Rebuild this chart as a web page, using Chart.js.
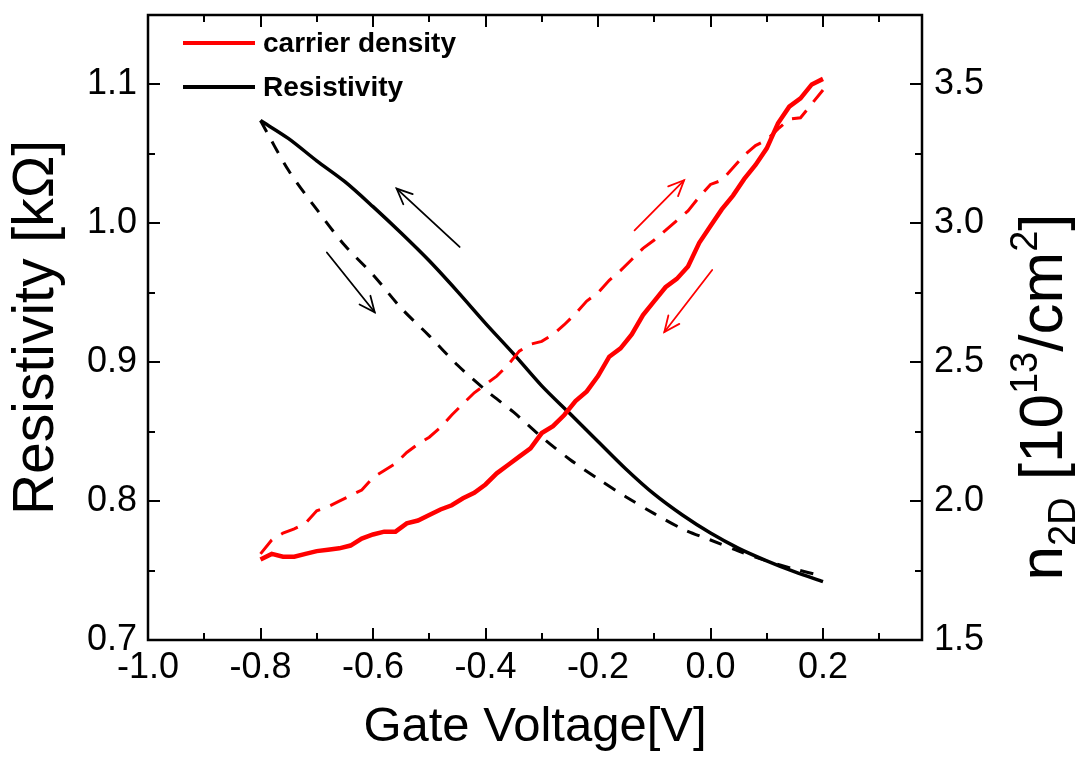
<!DOCTYPE html>
<html><head><meta charset="utf-8">
<script src="https://cdn.jsdelivr.net/npm/chart.js@4.4.0/dist/chart.umd.min.js"></script>
<style>html,body{margin:0;padding:0;background:#fff}#wrap{width:1078px;height:759px;position:relative}</style>
</head><body><div id="wrap"><canvas id="c" width="1078" height="759"></canvas></div>
<script>
// ---- data ----
const gateVDensity = [-0.80,-0.78,-0.76,-0.74,-0.72,-0.70,-0.68,-0.66,-0.64,-0.62,-0.60,-0.58,-0.56,-0.54,-0.52,-0.50,-0.48,-0.46,-0.44,-0.42,-0.40,-0.38,-0.36,-0.34,-0.32,-0.30,-0.28,-0.26,-0.24,-0.22,-0.20,-0.18,-0.16,-0.14,-0.12,-0.10,-0.08,-0.06,-0.04,-0.02,0.00,0.02,0.04,0.06,0.08,0.10,0.12,0.14,0.16,0.18,0.20];
const densityBackward = [1.79,1.81,1.80,1.80,1.81,1.82,1.825,1.83,1.84,1.865,1.88,1.89,1.89,1.92,1.93,1.95,1.97,1.985,2.01,2.03,2.06,2.10,2.13,2.16,2.19,2.245,2.27,2.31,2.36,2.395,2.45,2.52,2.55,2.60,2.67,2.72,2.77,2.80,2.845,2.93,2.99,3.05,3.10,3.16,3.21,3.27,3.36,3.42,3.45,3.50,3.52];
const densityForward = [1.81,1.86,1.885,1.90,1.92,1.965,1.98,2.00,2.02,2.04,2.085,2.11,2.135,2.175,2.205,2.23,2.265,2.31,2.35,2.39,2.42,2.45,2.49,2.54,2.565,2.575,2.60,2.635,2.675,2.72,2.75,2.795,2.83,2.87,2.91,2.94,2.975,3.01,3.045,3.095,3.14,3.155,3.20,3.245,3.28,3.30,3.34,3.375,3.38,3.43,3.48];
const gateVRes = [-0.80,-0.75,-0.70,-0.65,-0.60,-0.55,-0.50,-0.45,-0.40,-0.35,-0.30,-0.25,-0.20,-0.15,-0.10,-0.05,0.00,0.05,0.10,0.15,0.20];
const resBackward = [1.074,1.061,1.045,1.030,1.012,0.993,0.973,0.951,0.928,0.906,0.883,0.863,0.843,0.823,0.805,0.790,0.777,0.766,0.757,0.749,0.742];
const resForward  = [1.074,1.038,1.010,0.984,0.963,0.939,0.919,0.898,0.880,0.864,0.846,0.830,0.816,0.803,0.791,0.780,0.772,0.764,0.757,0.751,0.746];
const xTickValues = [-1.0,-0.8,-0.6,-0.4,-0.2,0.0,0.2];
const yLeftTickValues = [0.7,0.8,0.9,1.0,1.1];
const yRightTickValues = [1.5,2.0,2.5,3.0,3.5];
const legendLabels = ['carrier density','Resistivity'];
// sweep-direction arrows, in data units [x, value] on the named axis
const sweepArrows = [
  {from:[-0.446,0.983], to:[-0.558,1.025], axis:'y',  color:'#000000'},
  {from:[-0.682,0.979], to:[-0.597,0.936], axis:'y',  color:'#000000'},
  {from:[-0.135,2.975], to:[-0.047,3.155], axis:'y2', color:'#ff0000'},
  {from:[0.003,2.832],  to:[-0.082,2.609], axis:'y2', color:'#ff0000'}
];

const FONT = "'Liberation Sans', Arial, sans-serif";
Chart.defaults.font.family = FONT;
Chart.defaults.color = '#000';

const pts = (xs, ys) => xs.map((x, i) => ({x: x, y: ys[i]}));

function minorsFrom(majors, lo, hi) {
  const out = [];
  const step = majors[1] - majors[0];
  for (let i = 0; i < majors.length; i++) {
    const m = majors[i] + step / 2;
    if (m < hi - 1e-9) out.push(m);
  }
  return out;
}
function noPad(s) { s.paddingTop = 0; s.paddingBottom = 0; s.paddingLeft = 0; s.paddingRight = 0; }

const decorPlugin = {
  id: 'decor',
  afterDraw(chart) {
    const ctx = chart.ctx;
    const a = chart.chartArea;
    const sx = chart.scales.x, sy = chart.scales.y, sy2 = chart.scales.y2;
    ctx.save();
    ctx.strokeStyle = '#000';
    // ticks
    const MAJ = 12, MIN = 7;
    ctx.lineWidth = 2;
    const xMin = minorsFrom(xTickValues, sx.min, sx.max);
    const drawX = (vals, len) => vals.forEach(v => {
      const px = Math.round(sx.getPixelForValue(v));
      ctx.beginPath(); ctx.moveTo(px, a.bottom); ctx.lineTo(px, a.bottom - len); ctx.stroke();
      ctx.beginPath(); ctx.moveTo(px, a.top); ctx.lineTo(px, a.top + len); ctx.stroke();
    });
    drawX(xTickValues, MAJ); drawX(xMin, MIN);
    const yl = minorsFrom(yLeftTickValues, sy.min, sy.max);
    const drawY = (scale, vals, len, left) => vals.forEach(v => {
      const py = Math.round(scale.getPixelForValue(v));
      ctx.beginPath();
      if (left) { ctx.moveTo(a.left, py); ctx.lineTo(a.left + len, py); }
      else { ctx.moveTo(a.right, py); ctx.lineTo(a.right - len, py); }
      ctx.stroke();
    });
    drawY(sy, yLeftTickValues, MAJ, true); drawY(sy, yl, MIN, true);
    const yr = minorsFrom(yRightTickValues, sy2.min, sy2.max);
    drawY(sy2, yRightTickValues, MAJ, false); drawY(sy2, yr, MIN, false);
    // frame
    ctx.lineWidth = 2.5;
    ctx.strokeRect(a.left, a.top, a.right - a.left, a.bottom - a.top);

    // arrows
    sweepArrows.forEach(ar => {
      const ys = chart.scales[ar.axis];
      const x1 = sx.getPixelForValue(ar.from[0]), y1 = ys.getPixelForValue(ar.from[1]);
      const x2 = sx.getPixelForValue(ar.to[0]), y2 = ys.getPixelForValue(ar.to[1]);
      ctx.strokeStyle = ar.color; ctx.lineWidth = 1.8; ctx.lineCap = 'round';
      ctx.beginPath(); ctx.moveTo(x1, y1); ctx.lineTo(x2, y2); ctx.stroke();
      const ang = Math.atan2(y2 - y1, x2 - x1), hl = 17, ha = 0.42;
      ctx.beginPath();
      ctx.moveTo(x2 - hl * Math.cos(ang - ha), y2 - hl * Math.sin(ang - ha));
      ctx.lineTo(x2, y2);
      ctx.lineTo(x2 - hl * Math.cos(ang + ha), y2 - hl * Math.sin(ang + ha));
      ctx.stroke();
    });

    // legend
    const legColors = ['#ff0000', '#000000'];
    const legY = [43, 87];
    ctx.lineCap = 'butt';
    legendLabels.forEach((t, i) => {
      ctx.strokeStyle = legColors[i]; ctx.lineWidth = 4;
      ctx.beginPath(); ctx.moveTo(183, legY[i]); ctx.lineTo(255, legY[i]); ctx.stroke();
      ctx.fillStyle = '#000';
      ctx.font = "bold 28px " + FONT;
      ctx.textBaseline = 'middle'; ctx.textAlign = 'left';
      ctx.fillText(t, 263, legY[i] + 1);
    });

    // right axis title: n_2D [10^13/cm^2]
    const S = 62, s = 38;
    const parts = [
      {t:'n', f:S, dy:0}, {t:'2D', f:s, dy:13}, {t:' [10', f:S, dy:0}, {t:'13', f:s, dy:-25},
      {t:'/cm', f:S, dy:0}, {t:'2', f:s, dy:-25}, {t:']', f:S, dy:0}
    ];
    let total = 0;
    parts.forEach(p => { ctx.font = p.f + 'px ' + FONT; p.w = ctx.measureText(p.t).width; total += p.w; });
    ctx.translate(1062, 397);
    ctx.rotate(-Math.PI / 2);
    ctx.fillStyle = '#000'; ctx.textBaseline = 'alphabetic'; ctx.textAlign = 'left';
    let cx = -total / 2;
    parts.forEach(p => { ctx.font = p.f + 'px ' + FONT; ctx.fillText(p.t, cx, p.dy); cx += p.w; });
    ctx.restore();
  }
};

new Chart(document.getElementById('c'), {
  type: 'line',
  data: {
    datasets: [
      {label: legendLabels[0], data: pts(gateVDensity, densityBackward), yAxisID: 'y2', borderColor: '#ff0000', borderWidth: 4.5, pointRadius: 0, tension: 0},
      {label: legendLabels[0] + ' (forward)', data: pts(gateVDensity, densityForward), yAxisID: 'y2', borderColor: '#ff0000', borderWidth: 3, borderDash: [18, 11], pointRadius: 0, tension: 0},
      {label: legendLabels[1], data: pts(gateVRes, resBackward), yAxisID: 'y', borderColor: '#000000', borderWidth: 3.5, pointRadius: 0, tension: 0.3},
      {label: legendLabels[1] + ' (forward)', data: pts(gateVRes, resForward), yAxisID: 'y', borderColor: '#000000', borderWidth: 3, borderDash: [13, 11], pointRadius: 0, tension: 0.3}
    ]
  },
  options: {
    responsive: false, animation: false,
    layout: {padding: {top: 15, left: 0, right: 0, bottom: 0}},
    plugins: {legend: {display: false}, tooltip: {enabled: false}},
    scales: {
      x: {
        type: 'linear', position: 'bottom', min: -1.0, max: 0.376,
        afterBuildTicks: s => { s.ticks = xTickValues.map(v => ({value: v})); },
        afterFit: s => { s.height = 119; noPad(s); },
        grid: {display: false, drawTicks: false}, border: {display: false},
        ticks: {font: {size: 36}, color: '#000', padding: 6, maxRotation: 0, autoSkip: false, callback: v => Number(v).toFixed(1)},
        title: {display: true, text: 'Gate Voltage[V]', font: {size: 49}, color: '#000', padding: {top: 0, bottom: 2}}
      },
      y: {
        type: 'linear', position: 'left', min: 0.7, max: 1.15,
        afterBuildTicks: s => { s.ticks = yLeftTickValues.map(v => ({value: v})); },
        afterFit: s => { s.width = 148; noPad(s); },
        grid: {display: false, drawTicks: false}, border: {display: false},
        ticks: {font: {size: 36}, color: '#000', padding: 11, callback: v => Number(v).toFixed(1)},
        title: {display: true, text: 'Resistivity [kΩ]', font: {size: 57}, color: '#000', padding: {top: 3, bottom: 0}}
      },
      y2: {
        type: 'linear', position: 'right', min: 1.5, max: 3.75,
        afterBuildTicks: s => { s.ticks = yRightTickValues.map(v => ({value: v})); },
        afterFit: s => { s.width = 156; noPad(s); },
        grid: {display: false, drawTicks: false}, border: {display: false},
        ticks: {font: {size: 36}, color: '#000', padding: 12, callback: v => Number(v).toFixed(1)}
      }
    }
  },
  plugins: [decorPlugin]
});
</script></body></html>
